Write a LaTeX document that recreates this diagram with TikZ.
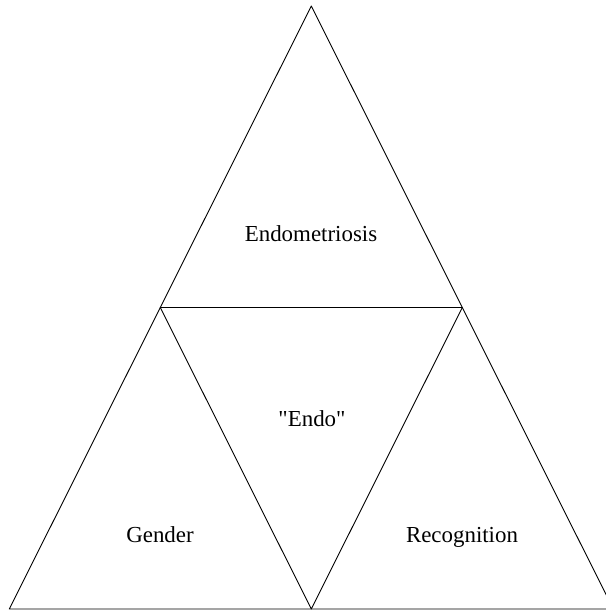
\documentclass[tikz,border=0pt]{standalone}
\usepackage{fontspec}
\setmainfont{Liberation Serif}
\newfontfamily\straightquotes{Liberation Serif}
\begin{document}
		\begin{tikzpicture}[x=1bp,y=-1bp,line join=round,line cap=round,font=\fontsize{23}{26}\selectfont]
			\useasboundingbox (0,0) rectangle (606,611);
			\coordinate (top) at (311.3,6);
			\coordinate (bl) at (9.3,609);
			\coordinate (br) at (613.3,609);
			\coordinate (ml) at (160.3,307.5);
			\coordinate (mr) at (462.3,307.5);
			\coordinate (mb) at (311.3,609);
			\draw[line width=0.9bp] (top)--(bl)--(br)--cycle;
			\draw[line width=0.9bp] (ml)--(mr)--(mb)--cycle;
			\node[anchor=base] (endometriosis) at (311,241) {Endometriosis};
			\node[anchor=base] (endo) at (312,426) {\straightquotes "Endo"};
			\node[anchor=base] (gender) at (160,542) {Gender};
			\node[anchor=base] (recognition) at (462,542) {Recognition};
		\end{tikzpicture}
\end{document}
